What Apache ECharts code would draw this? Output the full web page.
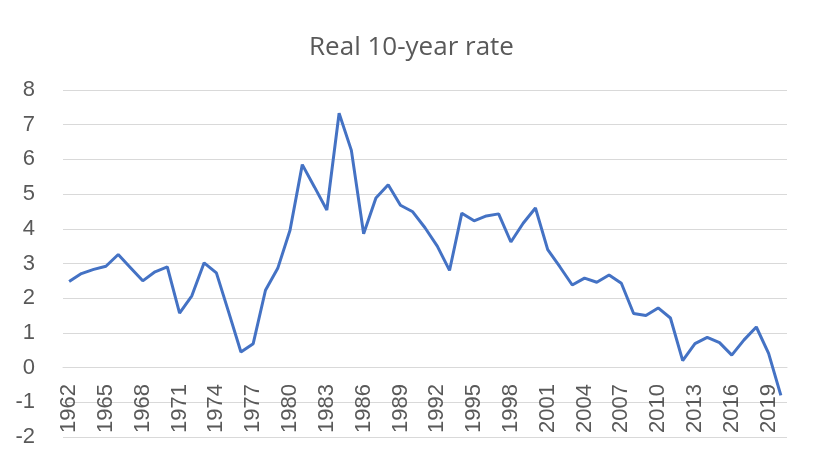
<!DOCTYPE html>
<html>
<head>
<meta charset="utf-8">
<script src="https://cdn.jsdelivr.net/npm/echarts@6/dist/echarts.min.js"></script>
<style>html,body{margin:0;padding:0;background:#fff;}#c{width:823px;height:467px;}</style>
</head>
<body>
<div id="c"></div>
<script>
const years = [];
for (let y = 1962; y <= 2020; y++) years.push(String(y));
const realRate = [
  2.48, 2.71, 2.83, 2.92, 3.26, 2.88, 2.50, 2.76, 2.90, 1.57,
  2.07, 3.02, 2.73, 1.60, 0.45, 0.69, 2.23, 2.86, 3.96, 5.85,
  5.20, 4.54, 7.33, 6.26, 3.86, 4.89, 5.27, 4.68, 4.49, 4.03,
  3.50, 2.80, 4.45, 4.23, 4.37, 4.43, 3.62, 4.16, 4.60, 3.40,
  2.90, 2.38, 2.58, 2.46, 2.67, 2.43, 1.56, 1.50, 1.72, 1.43,
  0.20, 0.69, 0.87, 0.72, 0.36, 0.80, 1.17, 0.41, -0.80
];
const yTicks = { min: -2, max: 8, interval: 1 };
const chart = echarts.init(document.getElementById('c'));
chart.setOption({
  animation: false,
  title: {
    text: 'Real 10-year rate', left: 'center', top: 30,
    textStyle: { fontFamily: 'Open Sans', fontSize: 26, fontWeight: 'normal', color: '#595959' }
  },
  grid: { left: 63, right: 36, top: 90, bottom: 30 },
  xAxis: {
    type: 'category', data: years, boundaryGap: true,
    axisLine: { show: true, lineStyle: { color: '#D9D9D9' } },
    axisTick: { show: false },
    axisLabel: {
      inside: true, rotate: 90, margin: 4, interval: 2,
      fontFamily: 'Liberation Sans', fontSize: 22, color: '#595959'
    }
  },
  yAxis: {
    type: 'value', min: yTicks.min, max: yTicks.max, interval: yTicks.interval,
    axisLine: { show: false }, axisTick: { show: false },
    splitLine: { lineStyle: { color: '#D9D9D9', width: 1 } },
    axisLabel: { margin: 28, fontFamily: 'Liberation Sans', fontSize: 22, color: '#595959' }
  },
  series: [{
    type: 'line', data: realRate, showSymbol: false, symbol: 'none',
    lineStyle: { color: '#4472C4', width: 3 }
  }]
});
</script>
</body>
</html>
